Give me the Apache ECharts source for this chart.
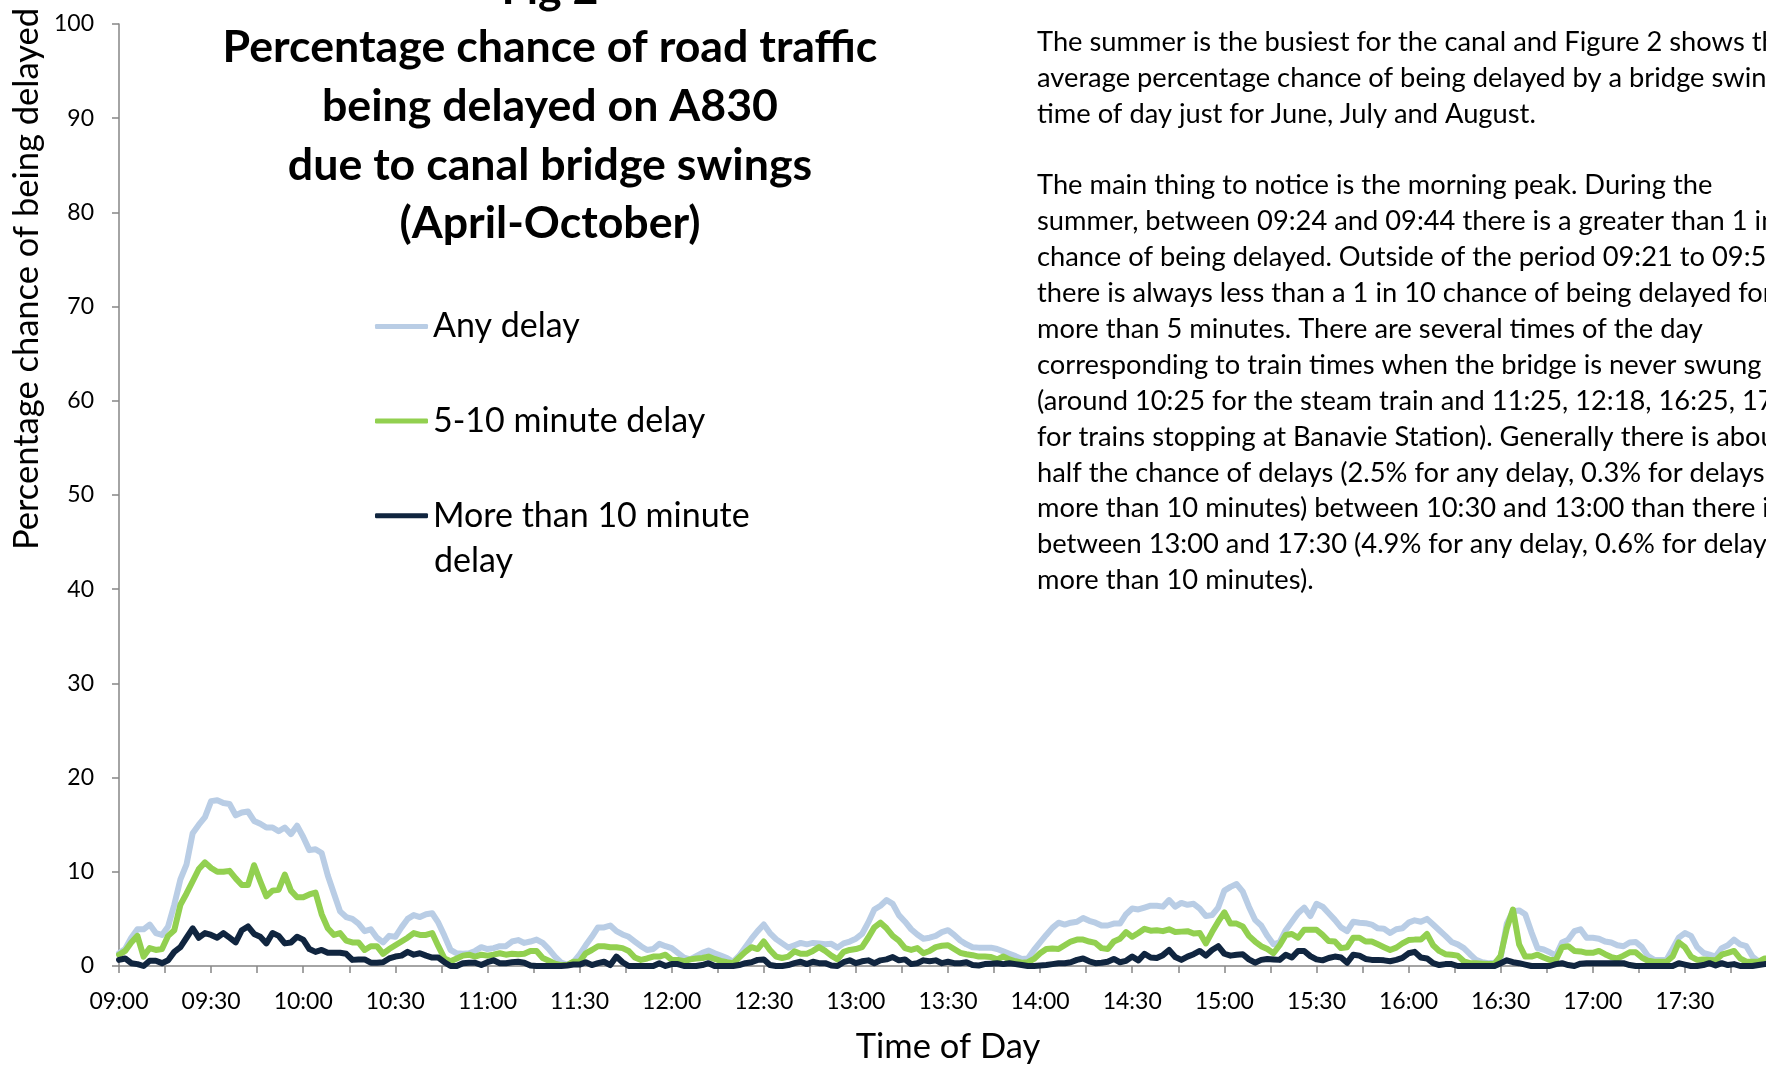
<!DOCTYPE html>
<html>
<head>
<meta charset="utf-8">
<title>Fig 2</title>
<script src="https://cdn.jsdelivr.net/npm/echarts@6/dist/echarts.min.js"></script>
<style>
  html, body { margin: 0; padding: 0; background: #fff; overflow: hidden; }
  #chart { width: 1766px; height: 1066px; }
</style>
</head>
<body>
<div id="chart"></div>
<script>
// one value every 2 minutes, from 09:00 to 18:00
const stepMinutes = 2;
const timeLabels = ['09:00', '09:30', '10:00', '10:30', '11:00', '11:30', '12:00', '12:30', '13:00',
  '13:30', '14:00', '14:30', '15:00', '15:30', '16:00', '16:30', '17:00', '17:30'];

const seriesNames = ['Any delay', '5-10 minute delay', 'More than 10 minute delay'];

const anyDelay = [
  1.35, 1.8, 3.0, 3.9, 3.9, 4.4, 3.5, 3.3, 4.2, 6.5, 9.2,
  10.8, 14.1, 15.0, 15.8, 17.5, 17.6, 17.3, 17.2, 16.0, 16.3,
  16.4, 15.4, 15.1, 14.7, 14.7, 14.3, 14.7, 14.0, 14.9, 13.7,
  12.3, 12.4, 12.0, 9.6, 7.7, 5.8, 5.2, 5.0, 4.5, 3.7,
  3.9, 3.0, 2.5, 3.2, 3.1, 4.1, 5.0, 5.4, 5.2, 5.5,
  5.6, 4.6, 3.2, 1.7, 1.35, 1.3, 1.35, 1.6, 2.0, 1.8,
  1.9, 2.1, 2.1, 2.6, 2.75, 2.45, 2.6, 2.8, 2.45, 1.8,
  1.0, 0.35, 0.15, 0.4, 1.2, 2.2, 3.1, 4.1, 4.1, 4.3,
  3.7, 3.35, 3.1, 2.6, 2.1, 1.7, 1.8, 2.35, 2.1, 1.9,
  1.4, 0.9, 0.7, 1.05, 1.4, 1.65, 1.35, 1.1, 0.85, 0.45,
  1.1, 2.0, 2.9, 3.7, 4.4, 3.5, 2.85, 2.4, 1.95, 2.2,
  2.45, 2.3, 2.45, 2.4, 2.3, 2.35, 1.95, 2.4, 2.6, 2.9,
  3.4, 4.6, 6.0, 6.4, 7.0, 6.6, 5.4, 4.7, 3.9, 3.35,
  2.9, 3.0, 3.2, 3.6, 3.8, 3.3, 2.7, 2.3, 2.0, 1.95,
  1.95, 1.95, 1.8, 1.55, 1.3, 1.05, 0.75, 0.8, 1.7, 2.5,
  3.3, 4.05, 4.6, 4.4, 4.6, 4.7, 5.1, 4.8, 4.6, 4.3,
  4.3, 4.5, 4.5, 5.5, 6.1, 6.0, 6.2, 6.4, 6.4, 6.3,
  7.0, 6.3, 6.7, 6.5, 6.6, 6.1, 5.3, 5.4, 6.2, 8.0,
  8.4, 8.7, 7.9, 6.3, 4.9, 4.3, 3.2, 2.3, 2.5, 3.8,
  4.7, 5.6, 6.2, 5.3, 6.6, 6.3, 5.6, 4.9, 4.1, 3.7,
  4.7, 4.6, 4.55, 4.4, 4.0, 3.95, 3.5, 3.9, 4.0, 4.6,
  4.85, 4.7, 5.0, 4.4, 3.8, 3.2, 2.55, 2.3, 1.9, 1.25,
  0.65, 0.4, 0.3, 0.35, 0.9, 4.5, 5.8, 5.9, 5.5, 3.6,
  1.9, 1.75, 1.45, 1.1, 2.5, 2.8, 3.7, 3.9, 3.0, 3.0,
  2.9, 2.6, 2.5, 2.2, 2.1, 2.5, 2.55, 2.0, 1.05, 0.65,
  0.65, 0.65, 1.8, 3.0, 3.5, 3.2, 2.0, 1.4, 1.2, 1.0,
  1.9, 2.2, 2.8, 2.3, 2.1, 1.0, 0.5, 0.6, 0.6, 0.6
];

const delay5to10 = [
  1.2, 1.6, 2.5, 3.2, 1.0, 1.9, 1.7, 1.8, 3.2, 3.8, 6.5,
  7.7, 9.0, 10.3, 11.0, 10.4, 10.0, 10.0, 10.1, 9.3, 8.6,
  8.6, 10.7, 9.0, 7.4, 8.0, 8.1, 9.7, 8.0, 7.3, 7.3,
  7.6, 7.8, 5.5, 4.0, 3.3, 3.5, 2.7, 2.5, 2.5, 1.7,
  2.1, 2.1, 1.3, 1.8, 2.2, 2.6, 3.0, 3.5, 3.3, 3.3,
  3.5, 2.1, 0.8, 0.5, 0.8, 1.1, 1.2, 1.0, 1.2, 1.1,
  1.2, 1.35, 1.2, 1.3, 1.25, 1.3, 1.6, 1.6, 0.85, 0.55,
  0.25, 0.1, 0.1, 0.45, 0.45, 1.35, 1.7, 2.1, 2.1, 2.0,
  2.0, 1.9, 1.6, 0.9, 0.65, 0.8, 1.0, 1.0, 1.2, 0.65,
  0.65, 0.5, 0.7, 0.8, 0.85, 1.0, 0.75, 0.55, 0.4, 0.3,
  0.9, 1.5, 2.0, 1.8, 2.6, 1.7, 1.0, 0.85, 1.0, 1.55,
  1.3, 1.3, 1.6, 2.0, 1.6, 1.1, 0.7, 1.5, 1.7, 1.8,
  2.0, 3.0, 4.1, 4.6, 4.0, 3.2, 2.7, 1.9, 1.7, 1.9,
  1.35, 1.6, 2.0, 2.15, 2.2, 1.8, 1.4, 1.25, 1.15, 1.0,
  1.0, 0.95, 0.7, 1.0, 0.7, 0.5, 0.35, 0.4, 0.75, 1.35,
  1.8, 1.85, 1.8, 2.2, 2.6, 2.8, 2.8, 2.6, 2.45, 1.9,
  1.8, 2.6, 2.9, 3.6, 3.1, 3.5, 3.95, 3.75, 3.8, 3.7,
  3.9, 3.6, 3.65, 3.7, 3.45, 3.5, 2.4, 3.6, 4.7, 5.7,
  4.5, 4.5, 4.2, 3.2, 2.6, 2.1, 1.8, 1.35, 2.2, 3.3,
  3.4, 3.0, 3.85, 3.85, 3.85, 3.3, 2.65, 2.6, 1.9, 2.0,
  3.0, 3.0, 2.6, 2.6, 2.3, 2.0, 1.7, 1.95, 2.4, 2.75,
  2.8, 2.8, 3.4, 2.2, 1.6, 1.25, 1.2, 1.1, 0.5, 0.3,
  0.3, 0.25, 0.2, 0.2, 1.1, 4.0, 6.0, 2.3, 1.0, 1.0,
  1.2, 0.9, 0.65, 0.65, 2.0, 2.1, 1.6, 1.55, 1.4, 1.4,
  1.6, 1.25, 0.95, 0.8, 1.1, 1.45, 1.45, 0.9, 0.55, 0.45,
  0.45, 0.45, 1.0, 2.5, 2.0, 1.0, 0.65, 0.7, 0.65, 0.6,
  1.2, 1.4, 1.6, 0.8, 0.45, 0.45, 0.45, 0.8, 0.8, 0.8
];

const delayOver10 = [
  0.65, 0.8, 0.3, 0.2, 0, 0.55, 0.55, 0.3, 0.6, 1.5, 2.0,
  3.0, 4.0, 3.0, 3.5, 3.3, 3.0, 3.5, 3.0, 2.5, 3.8,
  4.2, 3.4, 3.1, 2.4, 3.5, 3.2, 2.4, 2.5, 3.1, 2.8,
  1.8, 1.5, 1.7, 1.4, 1.4, 1.4, 1.3, 0.65, 0.7, 0.7,
  0.35, 0.35, 0.4, 0.8, 1.0, 1.1, 1.5, 1.2, 1.35, 1.1,
  0.9, 0.9, 0.4, 0, 0, 0.3, 0.35, 0.35, 0.1, 0.4,
  0.6, 0.3, 0.3, 0.4, 0.45, 0.35, 0.05, 0, 0, 0,
  0, 0, 0.05, 0.15, 0.15, 0.4, 0.1, 0.3, 0.45, 0.1,
  1.0, 0.4, 0, 0, 0, 0, 0, 0.3, 0, 0.2,
  0.2, 0, 0, 0, 0.1, 0.3, 0, 0, 0, 0,
  0.1, 0.3, 0.4, 0.65, 0.7, 0.1, 0, 0, 0.1, 0.3,
  0.45, 0.2, 0.45, 0.3, 0.3, 0.05, 0, 0.4, 0.6, 0.3,
  0.5, 0.6, 0.3, 0.6, 0.7, 0.95, 0.6, 0.7, 0.2, 0.3,
  0.6, 0.5, 0.6, 0.3, 0.45, 0.3, 0.3, 0.4, 0.1, 0.05,
  0.2, 0.25, 0.3, 0.2, 0.3, 0.2, 0.1, 0, 0, 0.05,
  0.1, 0.2, 0.3, 0.3, 0.4, 0.65, 0.8, 0.5, 0.3, 0.35,
  0.45, 0.75, 0.4, 0.55, 1.0, 0.6, 1.3, 0.9, 0.85, 1.15,
  1.7, 0.95, 0.65, 1.0, 1.25, 1.6, 1.1, 1.7, 2.1, 1.3,
  1.1, 1.2, 1.25, 0.7, 0.35, 0.65, 0.75, 0.7, 0.65, 1.2,
  0.9, 1.6, 1.6, 1.05, 0.7, 0.6, 0.85, 1.0, 0.9, 0.35,
  1.2, 1.1, 0.75, 0.65, 0.65, 0.6, 0.5, 0.65, 0.85, 1.35,
  1.5, 0.9, 0.8, 0.3, 0.1, 0.2, 0.2, 0, 0, 0,
  0, 0, 0, 0, 0.3, 0.6, 0.4, 0.3, 0.15, 0,
  0, 0, 0, 0.2, 0.3, 0.1, 0, 0.25, 0.3, 0.3,
  0.3, 0.3, 0.3, 0.3, 0.3, 0.1, 0, 0, 0, 0,
  0, 0, 0, 0.3, 0.15, 0, 0, 0.1, 0.3, 0.05,
  0.3, 0.1, 0.2, 0, 0, 0, 0.1, 0.2, 0.2, 0.2
];

const noteLines = [
  'The summer is the busiest for the canal and Figure 2 shows the',
  'average percentage chance of being delayed by a bridge swing',
  'time of day just for June, July and August.',
  '',
  'The main thing to notice is the morning peak. During the',
  'summer, between 09:24 and 09:44 there is a greater than 1 in',
  'chance of being delayed. Outside of the period 09:21 to 09:54',
  'there is always less than a 1 in 10 chance of being delayed for',
  'more than 5 minutes. There are several times of the day',
  'corresponding to train times when the bridge is never swung',
  '(around 10:25 for the steam train and 11:25, 12:18, 16:25, 17:',
  'for trains stopping at Banavie Station). Generally there is about',
  'half the chance of delays (2.5% for any delay, 0.3% for delays',
  'more than 10 minutes) between 10:30 and 13:00 than there is',
  'between 13:00 and 17:30 (4.9% for any delay, 0.6% for delays',
  'more than 10 minutes).'
];

const colors = ['#b9cde5', '#92d050', '#10253f'];
const font = 'Lato, "Open Sans", sans-serif';

const toPoints = values => values.map((v, i) => [i * stepMinutes, v]);

const chart = echarts.init(document.getElementById('chart'));

const option = {
  animation: false,
  backgroundColor: '#ffffff',
  textStyle: { fontFamily: font, color: '#000' },
  title: {
    text: 'Fig 2\nPercentage chance of road traffic\nbeing delayed on A830\ndue to canal bridge swings\n(April-October)',
    left: 550,
    top: -40,
    padding: 0,
    textAlign: 'center',
    textVerticalAlign: 'top',
    textStyle: {
      fontFamily: font,
      fontWeight: 'bold',
      fontSize: 44.7,
      lineHeight: 58.6,
      color: '#000'
    }
  },
  legend: {
    orient: 'vertical',
    left: 375,
    top: 304,
    padding: 0,
    itemGap: 49.6,
    itemWidth: 53,
    itemHeight: 5,
    icon: 'roundRect',
    selectedMode: false,
    data: seriesNames,
    formatter: name => (name === seriesNames[2] ? 'More than 10 minute' : name),
    textStyle: {
      fontFamily: font,
      fontSize: 34,
      lineHeight: 45,
      color: '#000'
    }
  },
  grid: {
    left: 119,
    right: -11,
    top: 24,
    bottom: 100,
    containLabel: false,
    outerBoundsMode: 'none'
  },
  xAxis: {
    type: 'value',
    min: 0,
    max: 540,
    interval: 15,
    name: 'Time of Day',
    nameLocation: 'middle',
    nameGap: 64,
    nameMoveOverlap: false,
    nameTextStyle: { fontFamily: font, fontSize: 34.5, lineHeight: 34, color: '#000' },
    axisLine: { lineStyle: { color: '#868686', width: 1.5 } },
    axisTick: { show: true, inside: false, length: 7, lineStyle: { color: '#868686', width: 1.5 } },
    splitLine: { show: false },
    axisLabel: {
      margin: 24,
      fontFamily: font,
      fontSize: 23,
      lineHeight: 23,
      color: '#000',
      showMaxLabel: false,
      formatter: v => (v % 30 === 0 ? (timeLabels[v / 30] || '') : '')
    }
  },
  yAxis: {
    type: 'value',
    min: 0,
    max: 100,
    interval: 10,
    name: 'Percentage chance of being delayed',
    nameLocation: 'middle',
    nameRotate: 90,
    nameGap: 75,
    nameMoveOverlap: false,
    nameTextStyle: {
      fontFamily: font,
      fontSize: 34.5,
      lineHeight: 34,
      color: '#000',
      padding: [0, 0, 0, 432]
    },
    axisLine: { show: true, lineStyle: { color: '#868686', width: 1.5 } },
    axisTick: { show: true, inside: false, length: 7, lineStyle: { color: '#868686', width: 1.5 } },
    splitLine: { show: false },
    axisLabel: {
      margin: 25,
      fontFamily: font,
      fontSize: 23,
      color: '#000'
    }
  },
  graphic: [
    {
      type: 'text',
      left: 434,
      top: 561 - 22.5,
      style: {
        text: 'delay',
        fontFamily: font,
        fontSize: 34,
        lineHeight: 45,
        fill: '#000'
      }
    },
    {
      type: 'text',
      left: 1037,
      top: 24,
      style: {
        text: noteLines.join('\n'),
        fontFamily: font,
        fontSize: 27.3,
        lineHeight: 35.9,
        fill: '#000'
      }
    }
  ],
  series: [anyDelay, delay5to10, delayOver10].map((values, i) => ({
    name: seriesNames[i],
    type: 'line',
    data: toPoints(values),
    color: colors[i],
    showSymbol: false,
    symbol: 'none',
    clip: false,
    lineStyle: { width: 6, color: colors[i], join: 'round', cap: 'round' }
  }))
};

chart.setOption(option);
</script>
</body>
</html>
